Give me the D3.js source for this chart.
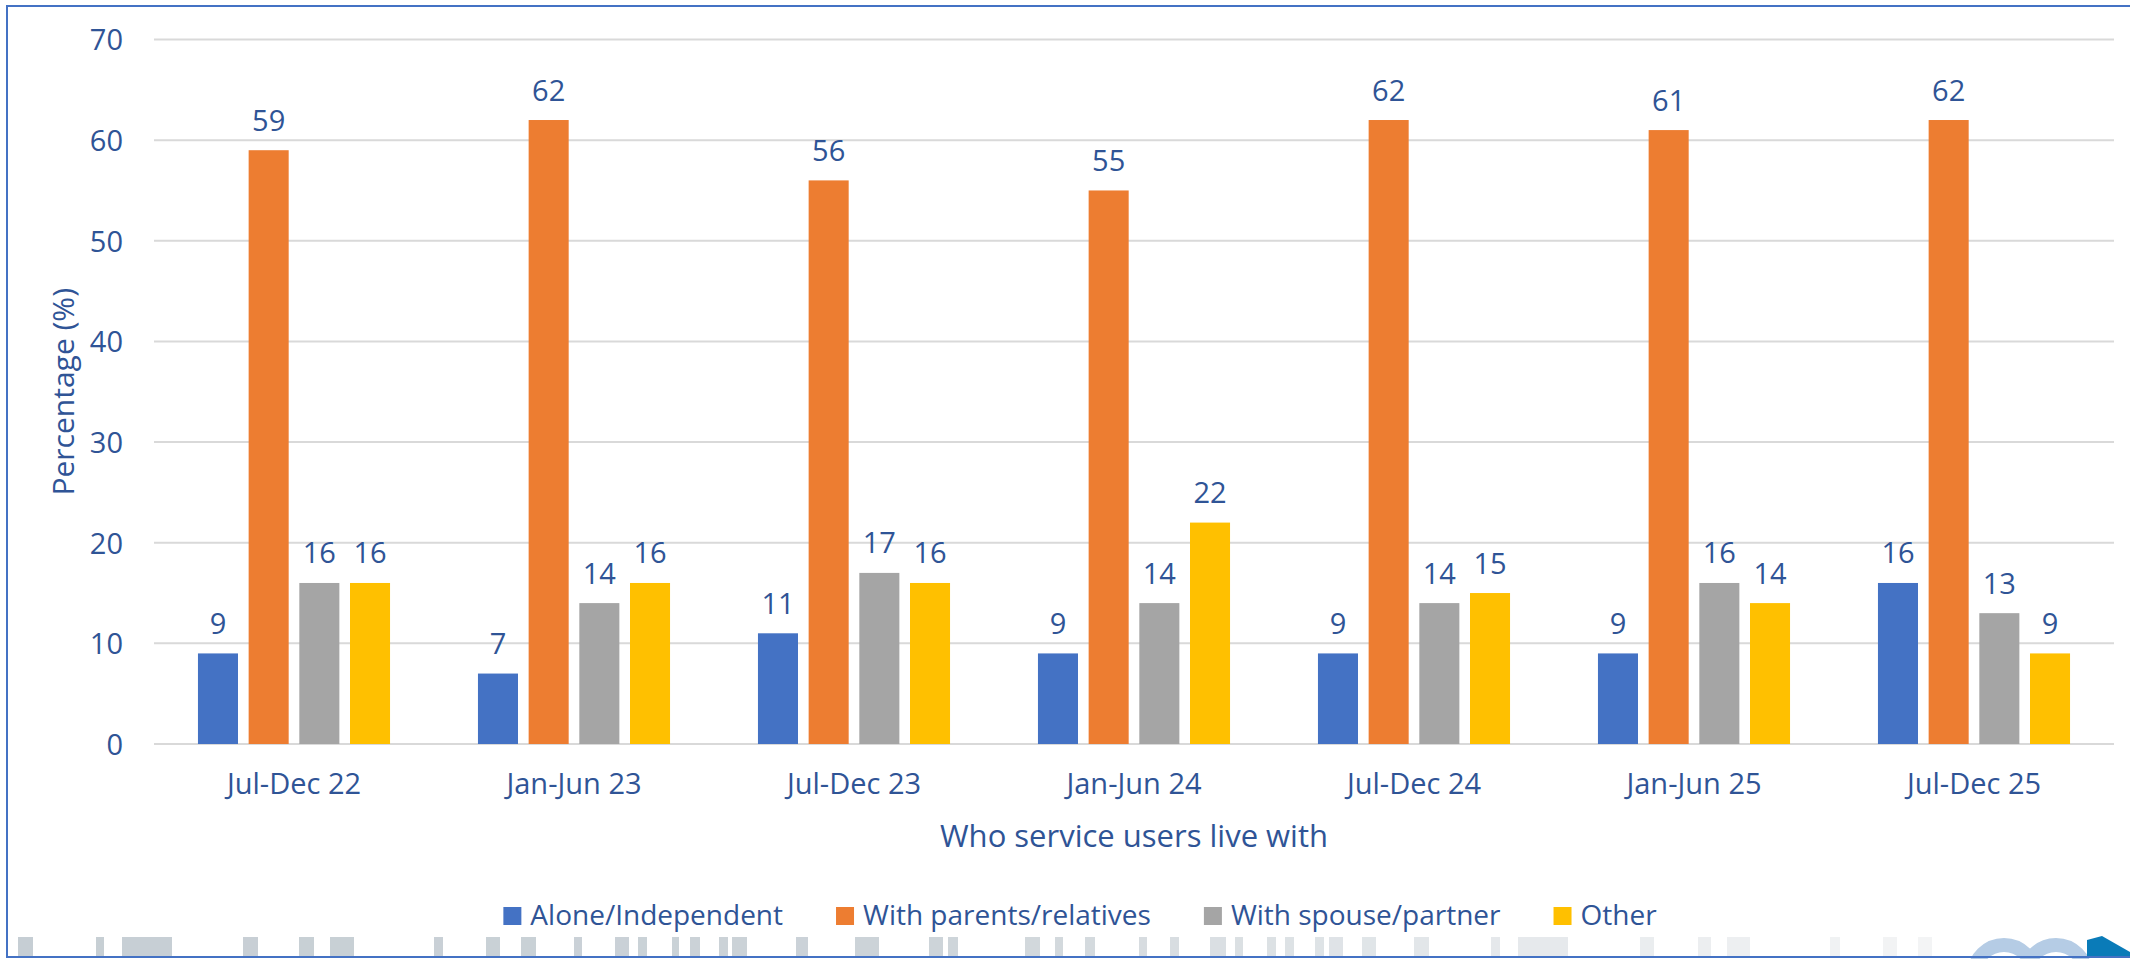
<!DOCTYPE html>
<html>
<head>
<meta charset="utf-8">
<script src="https://cdn.jsdelivr.net/npm/d3@7"></script>
<style>
  html, body { margin: 0; padding: 0; background: #ffffff; }
  svg { display: block; }
  text { font-family: "Open Sans", "Noto Sans", sans-serif; fill: #2F5496; }
</style>
</head>
<body>
<svg id="chart" width="2130" height="959"></svg>
<script>
// ---- data ----
const categories = ["Jul-Dec 22", "Jan-Jun 23", "Jul-Dec 23", "Jan-Jun 24", "Jul-Dec 24", "Jan-Jun 25", "Jul-Dec 25"];
const seriesNames = ["Alone/Independent", "With parents/relatives", "With spouse/partner", "Other"];
const aloneValues = [9, 7, 11, 9, 9, 9, 16];
const parentsValues = [59, 62, 56, 55, 62, 61, 62];
const spouseValues = [16, 14, 17, 14, 14, 16, 13];
const otherValues = [16, 16, 16, 22, 15, 14, 9];
const yTickValues = [0, 10, 20, 30, 40, 50, 60, 70];
const seriesColors = ["#4472C4", "#ED7D31", "#A5A5A5", "#FFC000"];
const xAxisTitle = "Who service users live with";
const yAxisTitle = "Percentage (%)";

// background decoration (slide footer strip behind the chart), not data
const footerStrip = [[18,33],[96,104],[122,172],[243,258],[299,314],[330,354],[434,443],[486,500],[521,536],[574,582],[615,629],[638,647],[672,679],[690,700],
  [719,728],[732,747],[796,808],[855,879],[929,943],[948,958],[1025,1040],[1055,1063],[1085,1095],[1139,1147],[1170,1179],[1210,1226],[1235,1243],[1267,1276],[1285,1294],[1315,1324],[1329,1343],[1362,1376],
  [1414,1429],[1491,1500],[1518,1568],[1640,1654],[1698,1711],[1727,1750],[1830,1840],[1883,1897],[1918,1932]];

const allValues = [aloneValues, parentsValues, spouseValues, otherValues];
const rows = categories.map((c, i) => ({
  category: c,
  values: seriesNames.map((s, j) => ({ series: s, idx: j, value: allValues[j][i] }))
}));

const svg = d3.select("#chart");
const W = 2130, H = 959;
const plot = { left: 154, right: 2114, top: 39.5, bottom: 744 };

svg.append("rect").attr("width", W).attr("height", H).attr("fill", "#ffffff");

// footer decoration
const stripColor = d3.scaleLinear().domain([0, 900, 1400, 1950]).range(["#C6CED4", "#CCD3D8", "#E2E6E9", "#F4F5F6"]);
svg.append("g").selectAll("rect").data(footerStrip).join("rect")
  .attr("x", d => d[0]).attr("y", 937).attr("width", d => d[1] - d[0]).attr("height", 20)
  .attr("fill", d => stripColor(d[0]));
const logo = svg.append("g");
logo.append("circle").attr("cx", 2004).attr("cy", 975).attr("r", 30).attr("fill", "none").attr("stroke", "#B5CCE5").attr("stroke-width", 14);
logo.append("circle").attr("cx", 2056).attr("cy", 975).attr("r", 30).attr("fill", "none").attr("stroke", "#B5CCE5").attr("stroke-width", 14);
logo.append("path").attr("d", "M2087,957 L2087,940 L2102,936 L2130,952 L2130,957 Z").attr("fill", "#0A7BB8");

// scales
const x0 = d3.scaleBand().domain(categories).range([plot.left, plot.right]).paddingInner(0).paddingOuter(0);
const bw = x0.bandwidth();
const x1 = d3.scaleBand().domain(seriesNames).range([bw * 0.157, bw * 0.843]).paddingInner(0.21).paddingOuter(0);
const y = d3.scaleLinear().domain([0, 70]).range([plot.bottom, plot.top]);

// gridlines
svg.append("g").selectAll("line").data(yTickValues).join("line")
  .attr("x1", plot.left).attr("x2", plot.right)
  .attr("y1", d => y(d)).attr("y2", d => y(d))
  .attr("stroke", "#D9D9D9").attr("stroke-width", 2);

// y axis labels via d3 axis
const yAxis = d3.axisLeft(y).tickValues(yTickValues).tickSize(0).tickPadding(0).tickFormat(d3.format("d"));
const yg = svg.append("g").attr("transform", `translate(123,0)`).call(yAxis);
yg.select(".domain").remove();
yg.selectAll("text").attr("font-size", 29).attr("fill", "#2F5496")
  .attr("font-family", "'Open Sans', 'Noto Sans', sans-serif").attr("dy", "0.36em");

// x axis labels via d3 axis
const xAxis = d3.axisBottom(x0).tickSize(0).tickPadding(0);
const xg = svg.append("g").attr("transform", `translate(0,${plot.bottom})`).call(xAxis);
xg.select(".domain").remove();
xg.selectAll("text").attr("font-size", 29).attr("fill", "#2F5496")
  .attr("font-family", "'Open Sans', 'Noto Sans', sans-serif").attr("dy", null).attr("y", 50);

// bars
const groups = svg.append("g").selectAll("g").data(rows).join("g")
  .attr("transform", d => `translate(${x0(d.category)},0)`);
groups.selectAll("rect").data(d => d.values).join("rect")
  .attr("x", d => x1(d.series))
  .attr("y", d => y(d.value))
  .attr("width", x1.bandwidth())
  .attr("height", d => y(0) - y(d.value))
  .attr("fill", d => seriesColors[d.idx]);
groups.selectAll("text").data(d => d.values).join("text")
  .attr("x", d => x1(d.series) + x1.bandwidth() / 2)
  .attr("y", d => y(d.value) - 19.5)
  .attr("text-anchor", "middle")
  .attr("font-size", 29)
  .text(d => d.value);

// axis titles
svg.append("text").attr("x", (plot.left + plot.right) / 2).attr("y", 847)
  .attr("text-anchor", "middle").attr("font-size", 31).text(xAxisTitle);
svg.append("text").attr("transform", `translate(74,${(plot.top + plot.bottom) / 2}) rotate(-90)`)
  .attr("text-anchor", "middle").attr("font-size", 30).text(yAxisTitle);

// legend
const legend = svg.append("g");
const items = legend.selectAll("g").data(seriesNames).join("g");
items.append("rect").attr("width", 18).attr("height", 18).attr("y", 907).attr("fill", (d, i) => seriesColors[i]);
items.append("text").attr("x", 27).attr("y", 925).attr("font-size", 28).text(d => d);
const widths = [];
items.each(function () { widths.push(27 + d3.select(this).select("text").node().getComputedTextLength()); });
const gap = 53;
const total = d3.sum(widths) + gap * (widths.length - 1);
let cx = 1080 - total / 2;
items.attr("transform", (d, i) => { const t = `translate(${cx},0)`; cx += widths[i] + gap; return t; });

// chart border (extends beyond right edge)
svg.append("rect").attr("x", 7).attr("y", 6).attr("width", 2300).attr("height", 951)
  .attr("fill", "none").attr("stroke", "#4472C4").attr("stroke-width", 2);
</script>
</body>
</html>
